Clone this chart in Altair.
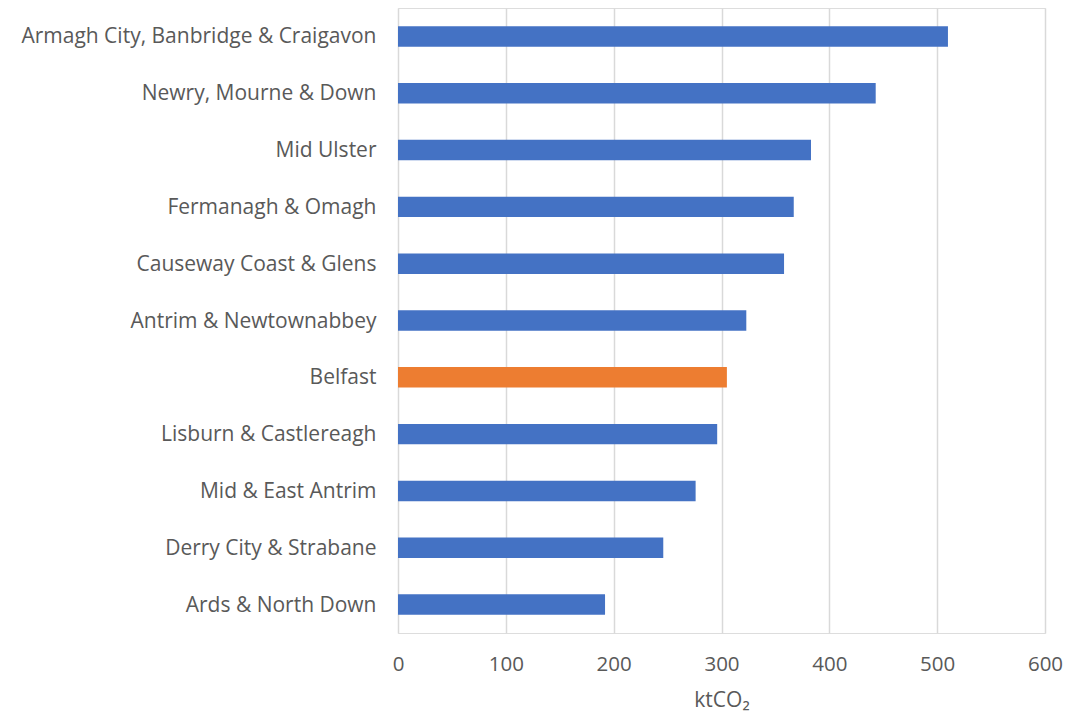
import altair as alt
import pandas as pd

councils = [
    "Armagh City, Banbridge & Craigavon",
    "Newry, Mourne & Down",
    "Mid Ulster",
    "Fermanagh & Omagh",
    "Causeway Coast & Glens",
    "Antrim & Newtownabbey",
    "Belfast",
    "Lisburn & Castlereagh",
    "Mid & East Antrim",
    "Derry City & Strabane",
    "Ards & North Down",
]
emissions = [510, 443, 383, 367, 358, 323, 305, 296, 276, 246, 192]
highlight = ["other"] * 6 + ["Belfast"] + ["other"] * 4

df = pd.DataFrame({"council": councils, "value": emissions, "group": highlight})

FONT = "Open Sans"
GREY = "#595959"

chart = (
    alt.Chart(df)
    .mark_bar()
    .encode(
        y=alt.Y(
            "council:N",
            sort=councils,
            scale=alt.Scale(paddingInner=0.64, paddingOuter=0.32),
            axis=alt.Axis(
                title=None,
                domain=False,
                ticks=False,
                tickSize=0,
                labelPadding=22,
                labelFontSize=21,
                labelFont=FONT,
                labelColor=GREY,
                labelLimit=400,
                labelOffset=1,
                minExtent=390,
                maxExtent=390,
            ),
        ),
        x=alt.X(
            "value:Q",
            scale=alt.Scale(domain=[0, 600], nice=False),
            axis=alt.Axis(
                title="ktCO₂",
                values=[0, 100, 200, 300, 400, 500, 600],
                domain=False,
                ticks=False,
                tickSize=0,
                grid=True,
                gridColor="#d9d9d9",
                gridWidth=1.5,
                labelFlush=False,
                labelPadding=21,
                labelFontSize=20.5,
                labelFont=FONT,
                labelColor=GREY,
                titleFont=FONT,
                titleFontSize=21,
                titleFontWeight="normal",
                titleColor=GREY,
                titlePadding=15,
            ),
        ),
        color=alt.Color(
            "group:N",
            scale=alt.Scale(domain=["other", "Belfast"], range=["#4472C4", "#ED7D31"]),
            legend=None,
        ),
    )
    .properties(
        width=647,
        height=625,
        padding={"left": 0, "top": 0, "right": 10, "bottom": 5},
    )
    .configure_view(stroke=None)
    .configure(background="white")
)

chart.save("out.html", embed_options={"renderer": "svg", "actions": False})
